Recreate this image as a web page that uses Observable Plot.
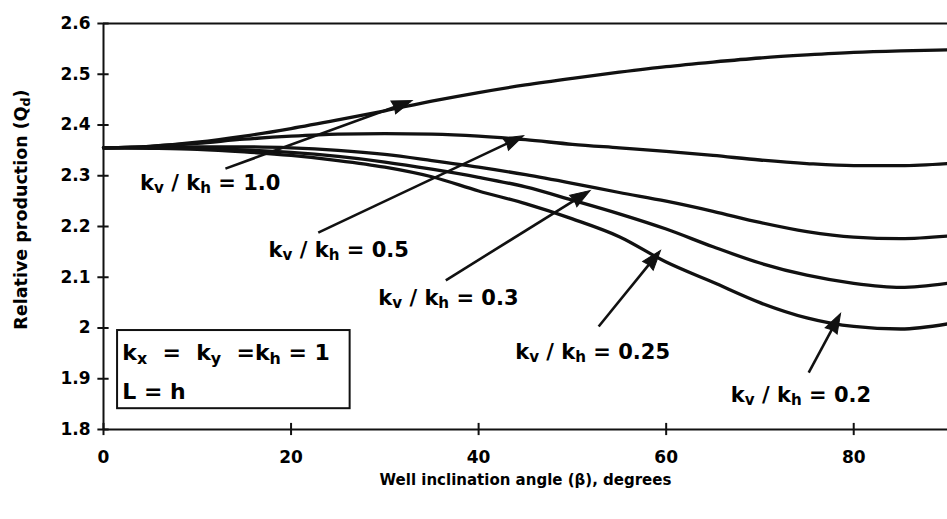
<!DOCTYPE html>
<html><head><meta charset="utf-8">
<script src="https://cdn.jsdelivr.net/npm/d3@7"></script>
<script src="https://cdn.jsdelivr.net/npm/@observablehq/plot@0.6"></script>
<style>
body{margin:0;background:#fff}
svg{font-family:"DejaVu Sans",Arial,sans-serif}
</style>
</head><body><div id="chart"></div>
<script>
// ---- data ----
const angles = [0,5,10,15,20,25,30,35,40,45,50,55,60,65,70,75,80,85,90];
const q_1_0  = [2.355,2.358,2.366,2.378,2.393,2.410,2.428,2.447,2.464,2.479,2.492,2.504,2.515,2.524,2.532,2.538,2.543,2.546,2.548];
const q_0_5  = [2.355,2.358,2.364,2.372,2.378,2.382,2.383,2.382,2.378,2.371,2.362,2.355,2.348,2.340,2.331,2.324,2.320,2.320,2.324];
const q_0_3  = [2.355,2.356,2.357,2.357,2.355,2.350,2.342,2.330,2.317,2.302,2.285,2.267,2.250,2.230,2.208,2.190,2.179,2.176,2.181];
const q_0_25 = [2.355,2.355,2.354,2.351,2.346,2.338,2.327,2.313,2.297,2.278,2.252,2.225,2.195,2.160,2.128,2.104,2.088,2.080,2.088];
const q_0_2  = [2.355,2.354,2.352,2.347,2.340,2.330,2.317,2.298,2.270,2.245,2.215,2.180,2.130,2.090,2.050,2.020,2.003,1.998,2.008];
const ratioLabels = ["1.0","0.5","0.3","0.25","0.2"];
const seriesValues = [q_1_0, q_0_5, q_0_3, q_0_25, q_0_2];

const xTicks = [0,20,40,60,80];
const xTickLabels = ["0","20","40","60","80"];
const yTicks = [1.8,1.9,2.0,2.1,2.2,2.3,2.4,2.5,2.6];
const yTickLabels = ["1.8","1.9","2","2.1","2.2","2.3","2.4","2.5","2.6"];

const xTitle = "Well inclination angle (β), degrees";
const yTitle = "Relative production (Q_d)";

// annotation anchors (data units)
const labelX = [3.9, 17.6, 29.3, 43.9, 66.9];
const labelY = [2.285, 2.153, 2.058, 1.952, 1.867];
const arrowFromX = [13.0, 22.9, 36.5, 52.8, 75.2];
const arrowFromY = [2.314, 2.188, 2.094, 2.003, 1.912];
const arrowToX   = [32.9, 44.8, 51.9, 59.4, 78.6];
const arrowToY   = [2.448, 2.379, 2.271, 2.153, 2.029];

const boxX = [1.5, 26.3];
const boxY = [1.841, 1.995];
const boxTextX = 2.0;
const boxLines = ["k_x\u00a0\u00a0=\u00a0\u00a0k_y\u00a0\u00a0=k_h\u00a0=\u00a01", "L\u00a0=\u00a0h"];
const boxLineY = [1.950, 1.873];

// ---- tables ----
const rows = seriesValues.flatMap((vals, s) => angles.map((a, i) => ({angle: a, q: vals[i], ratio: ratioLabels[s]})));
const labels = ratioLabels.map((r, i) => ({x: labelX[i], y: labelY[i], text: `k_v / k_h = ${r}`}));
const arrows = ratioLabels.map((r, i) => ({x1: arrowFromX[i], y1: arrowFromY[i], x2: arrowToX[i], y2: arrowToY[i]}));
const boxText = boxLines.map((t, i) => ({x: boxTextX, y: boxLineY[i], text: t}));

// filled arrowhead symbol (points up, centred on origin)
const HEAD_LEN = 20, HEAD_HALF = 6.8;
const headSymbol = {
  draw(ctx) {
    ctx.moveTo(0, -HEAD_LEN * 0.6);
    ctx.lineTo(HEAD_HALF, HEAD_LEN * 0.4);
    ctx.lineTo(0, HEAD_LEN * 0.33);
    ctx.lineTo(-HEAD_HALF, HEAD_LEN * 0.4);
    ctx.closePath();
  }
};

const W = 947, H = 519;
function build(heads) {
  const linkData = heads ? arrows.map((a, i) => ({...a, x2: heads[i].x, y2: heads[i].y})) : arrows;
  return Plot.plot({
    width: W, height: H,
    marginLeft: 103, marginRight: 0, marginTop: 23, marginBottom: 90,
    x: {domain: [0, 90]},
    y: {domain: [1.8, 2.6]},
    style: {background: "#fff", color: "#000"},
    marks: [
      Plot.ruleY([2.6], {stroke: "#111", strokeWidth: 2}),
      Plot.ruleY([1.8], {stroke: "#111", strokeWidth: 2}),
      Plot.ruleX([0], {y1: 1.8, y2: 2.6, stroke: "#111", strokeWidth: 2}),
      Plot.ruleY(yTicks, {y: d => d, x1: -0.6, x2: 0.6, stroke: "#111", strokeWidth: 2}),
      Plot.ruleX(xTicks, {x: d => d, y1: 1.788, y2: 1.812, stroke: "#111", strokeWidth: 2}),
      Plot.axisY(yTicks, {tickSize: 0, tickPadding: 13, label: null, fontSize: 17, fontWeight: "bold",
        tickFormat: d => yTickLabels[yTicks.indexOf(d)]}),
      Plot.axisX(xTicks, {tickSize: 0, tickPadding: 21, label: null, fontSize: 17, fontWeight: "bold",
        tickFormat: d => xTickLabels[xTicks.indexOf(d)]}),
      Plot.text([xTitle], {frameAnchor: "bottom", dy: 51, lineAnchor: "middle", fontSize: 15, fontWeight: "bold"}),
      Plot.text([yTitle], {frameAnchor: "left", dx: -82, dy: -17, rotate: -90, textAnchor: "middle", lineAnchor: "middle", fontSize: 17.5, fontWeight: "bold"}),
      Plot.line(rows, {x: "angle", y: "q", z: "ratio", stroke: "#111", strokeWidth: 3.3, curve: "monotone-x"}),
      Plot.rect([0], {x1: boxX[0], x2: boxX[1], y1: boxY[0], y2: boxY[1], fill: "#fff", stroke: "#111", strokeWidth: 2}),
      Plot.text(boxText, {x: "x", y: "y", text: "text", textAnchor: "start", fontSize: 22, fontWeight: "bold"}),
      Plot.text(labels, {x: "x", y: "y", text: "text", textAnchor: "start", fontSize: 21, fontWeight: "bold"}),
      Plot.link(linkData, {x1: "x1", y1: "y1", x2: "x2", y2: "y2", stroke: "#111", strokeWidth: 2.6}),
      heads ? Plot.dot(heads, {x: "x", y: "y", rotate: "rot", symbol: headSymbol, r: 6, fill: "#111", stroke: "#111", strokeWidth: 1}) : null
    ]
  });
}

// first pass: get scales to orient arrowheads
const p0 = build(null);
const sx = p0.scale("x"), sy = p0.scale("y");
const heads = arrows.map(a => {
  const px1 = sx.apply(a.x1), py1 = sy.apply(a.y1), px2 = sx.apply(a.x2), py2 = sy.apply(a.y2);
  const L = Math.hypot(px2 - px1, py2 - py1);
  const ux = (px2 - px1) / L, uy = (py2 - py1) / L;
  const back = HEAD_LEN * 0.6;
  return {x: sx.invert(px2 - back * ux), y: sy.invert(py2 - back * uy), rot: Math.atan2(ux, -uy) * 180 / Math.PI};
});
const plot = build(heads);

// subscripts: "_c" -> subscript c
function subscripts(svg) {
  const walker = document.createTreeWalker(svg, NodeFilter.SHOW_TEXT);
  const nodes = [];
  while (walker.nextNode()) if (walker.currentNode.data.includes("_")) nodes.push(walker.currentNode);
  for (const n of nodes) {
    const parts = n.data.split(/_(.)/);
    const frag = document.createDocumentFragment();
    parts.forEach((p, i) => {
      if (!p) return;
      if (i % 2 === 1) {
        const t = document.createElementNS("http://www.w3.org/2000/svg", "tspan");
        t.setAttribute("baseline-shift", "-22%");
        t.setAttribute("font-size", "72%");
        t.textContent = p;
        frag.appendChild(t);
      } else frag.appendChild(document.createTextNode(p));
    });
    n.parentNode.replaceChild(frag, n);
  }
}
subscripts(plot);
document.getElementById("chart").appendChild(plot);
</script>
</body></html>
